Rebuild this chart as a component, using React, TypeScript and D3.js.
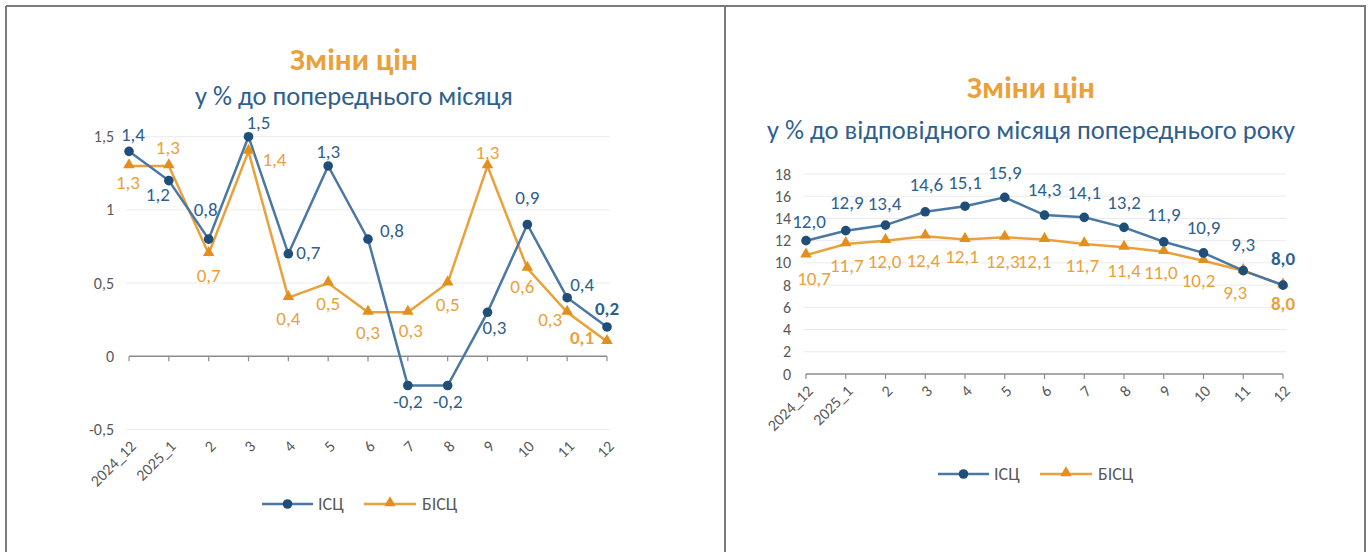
import React, { useEffect, useRef } from "react";
import * as d3 from "d3";

const months = ["2024_12", "2025_1", "2", "3", "4", "5", "6", "7", "8", "9", "10", "11", "12"];

// month-on-month, %
const momCpi = [1.4, 1.2, 0.8, 1.5, 0.7, 1.3, 0.8, -0.2, -0.2, 0.3, 0.9, 0.4, 0.2];
const momCore = [1.3, 1.3, 0.7, 1.4, 0.4, 0.5, 0.3, 0.3, 0.5, 1.3, 0.6, 0.3, 0.1];
const momTicks = [-0.5, 0, 0.5, 1, 1.5];

// year-on-year, %
const yoyCpi = [12.0, 12.9, 13.4, 14.6, 15.1, 15.9, 14.3, 14.1, 13.2, 11.9, 10.9, 9.3, 8.0];
const yoyCore = [10.7, 11.7, 12.0, 12.4, 12.1, 12.3, 12.1, 11.7, 11.4, 11.0, 10.2, 9.3, 8.0];
const yoyTicks = [0, 2, 4, 6, 8, 10, 12, 14, 16, 18];

const seriesNames = ["ІСЦ", "БІСЦ"];

// label nudges (dx, dy from the point) – excel had them placed by hand
const momCpiNudge = [[4, -17], [-11, 14], [-3, -30], [10, -14], [20, -1], [0, -15], [24, -9], [0, 16], [0, 16], [7, 15], [0, -27], [15, -13], [0, -19]];
const momCoreNudge = [[-1, 16], [-1, -19], [0, 22], [26, 8], [0, 21], [0, 20], [0, 20], [3, 18], [0, 21], [0, -14], [-5, 18], [-17, 7], [-25, -4]];
const yoyCpiNudge = [[3, -19], [1, -28], [-1, -22], [1, -27], [0, -24], [0, -25], [0, -26], [0, -25], [0, -25], [0, -27], [0, -26], [0, -26], [0, -27]];
const yoyCoreNudge = [[8, 23], [1, 21], [-1, 21], [-2, 24], [-3, 17], [-2, 24], [-10, 22], [-2, 21], [0, 23], [-3, 21], [-5, 20], [-8, 22], [0, 18]];

const FONT = "Carlito, Lato, 'Open Sans', sans-serif";
const ORANGE = "#e9a23b";
const ORANGE_DARK = "#e48f1c";
const BLUE_LINE = "#4a78a3";
const BLUE_DOT = "#1f4e79";
const BLUE_TEXT = "#2f5f8f";
const AXIS_TEXT = "#595959";

const comma = (s: string) => s.replace(".", ",");

type Panel = {
  title: string;
  subtitle: string;
  titleY: number;
  subY: number;
  cx: number;
  x0: number;
  x1: number;
  yTop: number;
  yBottom: number;
  ticks: number[];
  cpi: number[];
  core: number[];
  cpiNudge: number[][];
  coreNudge: number[][];
  fmt: (v: number) => string;
  legendY: number;
  legendX: number;
  labelSize: number;
};

function drawPanel(svg: d3.Selection<SVGSVGElement, unknown, null, undefined>, p: Panel) {
  const g = svg.append("g");
  const x = d3.scalePoint<string>().domain(months).range([p.x0, p.x1]);
  const y = d3
    .scaleLinear()
    .domain([p.ticks[0], p.ticks[p.ticks.length - 1]])
    .range([p.yBottom, p.yTop]);

  g.append("text")
    .attr("x", p.cx)
    .attr("y", p.titleY)
    .attr("text-anchor", "middle")
    .attr("font-family", FONT)
    .attr("font-weight", 700)
    .attr("font-size", 31)
    .attr("fill", ORANGE)
    .text(p.title);
  g.append("text")
    .attr("x", p.cx)
    .attr("y", p.subY)
    .attr("text-anchor", "middle")
    .attr("font-family", FONT)
    .attr("font-size", 26.5)
    .attr("fill", BLUE_TEXT)
    .text(p.subtitle);

  // gridlines + y labels
  p.ticks.forEach((t) => {
    if (t !== 0) {
      g.append("line")
        .attr("x1", p.x0 - 3)
        .attr("x2", p.x1 + 3)
        .attr("y1", y(t))
        .attr("y2", y(t))
        .attr("stroke", "#ebebeb")
        .attr("stroke-width", 1);
    }
    g.append("text")
      .attr("x", p.x0 - 15)
      .attr("y", y(t))
      .attr("dy", "0.35em")
      .attr("text-anchor", "end")
      .attr("font-family", FONT)
      .attr("font-size", 16)
      .attr("fill", AXIS_TEXT)
      .text(comma(String(t)));
  });

  // zero axis with ticks
  g.append("line")
    .attr("x1", p.x0)
    .attr("x2", p.x1)
    .attr("y1", y(0))
    .attr("y2", y(0))
    .attr("stroke", "#8c8c8c")
    .attr("stroke-width", 1.5);
  months.forEach((m) => {
    g.append("line")
      .attr("x1", x(m)!)
      .attr("x2", x(m)!)
      .attr("y1", y(0))
      .attr("y2", y(0) + 5)
      .attr("stroke", "#8c8c8c")
      .attr("stroke-width", 1.2);
    g.append("text")
      .attr("transform", `translate(${x(m)! + 4},${p.yBottom + 14}) rotate(-45)`)
      .attr("dy", "0.35em")
      .attr("text-anchor", "end")
      .attr("font-family", FONT)
      .attr("font-size", 16)
      .attr("fill", AXIS_TEXT)
      .text(m);
  });

  const line = d3
    .line<number>()
    .x((_, i) => x(months[i])!)
    .y((d) => y(d));

  const tri = d3.symbol().type(d3.symbolTriangle).size(58);

  // core (orange) first, cpi on top
  g.append("path").attr("d", line(p.core)).attr("fill", "none").attr("stroke", ORANGE).attr("stroke-width", 2.5);
  g.append("path").attr("d", line(p.cpi)).attr("fill", "none").attr("stroke", BLUE_LINE).attr("stroke-width", 2.5);

  g.selectAll(".tri")
    .data(p.core)
    .join("path")
    .attr("transform", (d, i) => `translate(${x(months[i])},${y(d) - 1})`)
    .attr("d", tri)
    .attr("fill", ORANGE_DARK);
  g.selectAll(".dot")
    .data(p.cpi)
    .join("circle")
    .attr("cx", (_, i) => x(months[i])!)
    .attr("cy", (d) => y(d))
    .attr("r", 4.8)
    .attr("fill", BLUE_DOT);

  const last = months.length - 1;
  const labels = (vals: number[], nudge: number[][], color: string) => {
    g.append("g")
      .selectAll("text")
      .data(vals)
      .join("text")
      .attr("x", (_, i) => x(months[i])! + nudge[i][0])
      .attr("y", (d, i) => y(d) + nudge[i][1])
      .attr("dy", "0.35em")
      .attr("text-anchor", "middle")
      .attr("font-family", FONT)
      .attr("font-size", p.labelSize)
      .attr("font-weight", (_, i) => (i === last ? 700 : 400))
      .attr("fill", color)
      .text((d) => p.fmt(d));
  };
  labels(p.cpi, p.cpiNudge, BLUE_TEXT);
  labels(p.core, p.coreNudge, ORANGE);

  // legend
  const lg = g.append("g").attr("transform", `translate(${p.legendX},${p.legendY})`);
  lg.append("line").attr("x1", 0).attr("x2", 51).attr("stroke", BLUE_LINE).attr("stroke-width", 2.5);
  lg.append("circle").attr("cx", 25.5).attr("r", 4.8).attr("fill", BLUE_DOT);
  lg.append("text")
    .attr("x", 56)
    .attr("dy", "0.35em")
    .attr("font-family", FONT)
    .attr("font-size", 18)
    .attr("fill", AXIS_TEXT)
    .text(seriesNames[0]);
  lg.append("line").attr("x1", 102).attr("x2", 154).attr("stroke", ORANGE).attr("stroke-width", 2.5);
  lg.append("path").attr("transform", "translate(128,-1)").attr("d", tri).attr("fill", ORANGE_DARK);
  lg.append("text")
    .attr("x", 160)
    .attr("dy", "0.35em")
    .attr("font-family", FONT)
    .attr("font-size", 18)
    .attr("fill", AXIS_TEXT)
    .text(seriesNames[1]);
}

export default function App() {
  const svgRef = useRef<SVGSVGElement | null>(null);

  useEffect(() => {
    document.body.style.margin = "0";
    const svg = d3.select(svgRef.current!);
    svg.selectAll("*").remove(); // clear on redraw

    svg.append("rect").attr("width", 1370).attr("height", 552).attr("fill", "#fff");

    // frame
    const frame = [
      [6, 6, 1366, 6],
      [6, 6, 6, 552],
      [725, 6, 725, 552],
      [1365, 6, 1365, 552],
    ];
    frame.forEach(([a, b, c, d]) =>
      svg.append("line").attr("x1", a).attr("y1", b).attr("x2", c).attr("y2", d).attr("stroke", "#7a7a7a").attr("stroke-width", 2)
    );

    drawPanel(svg, {
      title: "Зміни цін",
      subtitle: "у % до попереднього місяця",
      titleY: 70,
      subY: 105,
      cx: 354,
      x0: 129,
      x1: 607,
      yTop: 136.7,
      yBottom: 429.4,
      ticks: momTicks,
      cpi: momCpi,
      core: momCore,
      cpiNudge: momCpiNudge,
      coreNudge: momCoreNudge,
      fmt: (v) => comma(String(v)),
      legendX: 262,
      legendY: 504,
      labelSize: 19,
    });

    drawPanel(svg, {
      title: "Зміни цін",
      subtitle: "у % до відповідного місяця попереднього року",
      titleY: 98,
      subY: 139,
      cx: 1031,
      x0: 806,
      x1: 1283,
      yTop: 174,
      yBottom: 374,
      ticks: yoyTicks,
      cpi: yoyCpi,
      core: yoyCore,
      cpiNudge: yoyCpiNudge,
      coreNudge: yoyCoreNudge,
      fmt: (v) => comma(d3.format(".1f")(v)),
      legendX: 938,
      legendY: 474,
      labelSize: 19,
    });
  }, []);

  return <svg ref={svgRef} width={1370} height={552} style={{ display: "block" }} />;
}
